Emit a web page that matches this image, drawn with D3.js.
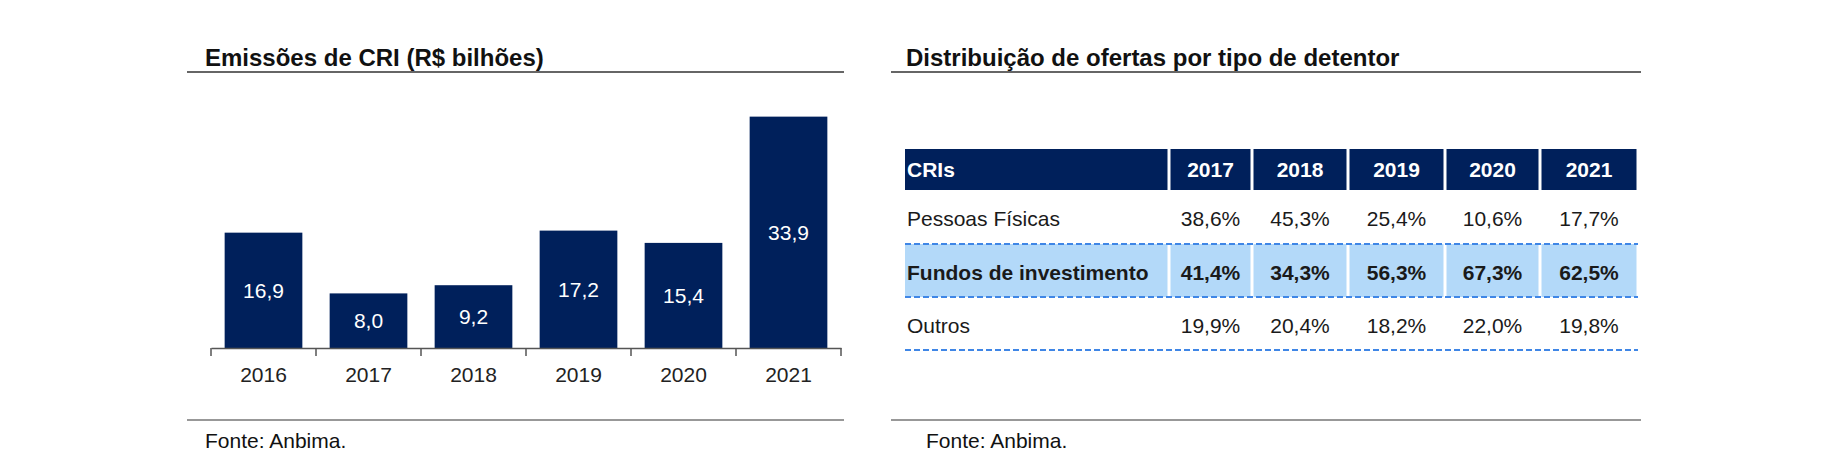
<!DOCTYPE html>
<html>
<head>
<meta charset="utf-8">
<script src="https://cdn.jsdelivr.net/npm/d3@7"></script>
<style>
  body { margin: 0; background: #fff; }
  text { font-family: "Liberation Sans", Arial, sans-serif; }
</style>
</head>
<body>
<script>
// chart data
const years = ['2016', '2017', '2018', '2019', '2020', '2021']
const emissions = [16.9, 8.0, 9.2, 17.2, 15.4, 33.9]

// table data
const tableYears = ['2017', '2018', '2019', '2020', '2021']
const holders = ['Pessoas Físicas', 'Fundos de investimento', 'Outros']
const pessoasFisicas = [38.6, 45.3, 25.4, 10.6, 17.7]
const fundos = [41.4, 34.3, 56.3, 67.3, 62.5]
const outros = [19.9, 20.4, 18.2, 22.0, 19.8]

const m = {
    width: 1838,
    height: 476
}

const navy = '#00205b'
const ptBR = d3.formatLocale({ decimal: ',', thousands: '.', grouping: [3], currency: ['R$ ', ''] })
const fmt = ptBR.format('.1f')

const svg = d3.select('body').append('svg')
    .attr('width', m.width)
    .attr('height', m.height)

// ---------- left panel: bars ----------
const left = svg.append('g')

left.append('text')
    .attr('x', 205)
    .attr('y', 66)
    .attr('font-size', 24)
    .attr('font-weight', 'bold')
    .attr('fill', '#111')
    .text('Emissões de CRI (R$ bilhões)')

left.append('line')
    .attr('x1', 187).attr('x2', 844)
    .attr('y1', 72).attr('y2', 72)
    .attr('stroke', '#333')
    .attr('stroke-width', 1.6)

const xScale = d3.scaleBand()
    .domain(years)
    .range([211, 841])
    .paddingInner(0.26)
    .paddingOuter(0.13)

const yScale = d3.scaleLinear()
    .domain([0, 40])
    .range([348, 75])

const barData = years.map(function (y, i) { return { year: y, value: emissions[i] } })

left.selectAll('.bar')
    .data(barData)
    .enter()
    .append('rect')
    .attr('class', 'bar')
    .attr('x', function (d) { return xScale(d.year) })
    .attr('y', function (d) { return yScale(d.value) })
    .attr('width', xScale.bandwidth())
    .attr('height', function (d) { return yScale(0) - yScale(d.value) })
    .attr('fill', navy)

left.selectAll('.barLabel')
    .data(barData)
    .enter()
    .append('text')
    .attr('class', 'barLabel')
    .attr('x', function (d) { return xScale(d.year) + xScale.bandwidth() / 2 })
    .attr('y', function (d) { return (yScale(d.value) + yScale(0)) / 2 })
    .attr('dy', '0.36em')
    .attr('text-anchor', 'middle')
    .attr('font-size', 21)
    .attr('fill', '#fff')
    .text(function (d) { return fmt(d.value) })

// x axis, labels from the axis, ticks between categories drawn separately
const xAxis = left.append('g')
    .attr('transform', 'translate(0,' + yScale(0) + ')')
    .call(d3.axisBottom(xScale).tickSize(0).tickPadding(19))

xAxis.select('.domain')
    .attr('stroke', '#555')
    .attr('stroke-width', 1.5)
xAxis.selectAll('.tick text')
    .attr('font-size', 21)
    .attr('font-family', '"Liberation Sans", Arial, sans-serif')
    .attr('fill', '#222')

const bounds = d3.range(years.length + 1).map(function (i) {
    return xScale.range()[0] + i * xScale.step()
})
xAxis.selectAll('.sep')
    .data(bounds)
    .enter()
    .append('line')
    .attr('class', 'sep')
    .attr('x1', function (d) { return d }).attr('x2', function (d) { return d })
    .attr('y1', 0).attr('y2', 8)
    .attr('stroke', '#555')
    .attr('stroke-width', 1.5)

left.append('line')
    .attr('x1', 187).attr('x2', 844)
    .attr('y1', 420).attr('y2', 420)
    .attr('stroke', '#333')
    .attr('stroke-width', 1.2)

left.append('text')
    .attr('x', 205)
    .attr('y', 448)
    .attr('font-size', 21)
    .attr('fill', '#111')
    .text('Fonte: Anbima.')

// ---------- right panel: table ----------
const right = svg.append('g')

right.append('text')
    .attr('x', 906)
    .attr('y', 66)
    .attr('font-size', 24)
    .attr('font-weight', 'bold')
    .attr('fill', '#111')
    .text('Distribuição de ofertas por tipo de detentor')

right.append('line')
    .attr('x1', 891).attr('x2', 1641)
    .attr('y1', 72).attr('y2', 72)
    .attr('stroke', '#333')
    .attr('stroke-width', 1.6)

// column edges of the table
const colWidths = [264, 83, 96, 97, 95, 98]
const colX = [905]
colWidths.forEach(function (w, i) { colX.push(colX[i] + w) })
const tableRight = colX[colX.length - 1]

const headerTop = 149, headerBottom = 190, rowH = 53
const rowTop = function (i) { return headerBottom + i * rowH + (i > 0 ? 1 : 0) }

const rows = [pessoasFisicas, fundos, outros]
const headers = ['CRIs'].concat(tableYears)

// header cells
right.selectAll('.hcell')
    .data(headers)
    .enter()
    .append('rect')
    .attr('class', 'hcell')
    .attr('x', function (d, i) { return colX[i] + (i > 0 ? 1.5 : 0) })
    .attr('y', headerTop)
    .attr('width', function (d, i) { return colWidths[i] - (i > 0 ? 1.5 : 0) - 1.5 })
    .attr('height', headerBottom - headerTop)
    .attr('fill', navy)

right.selectAll('.htext')
    .data(headers)
    .enter()
    .append('text')
    .attr('class', 'htext')
    .attr('x', function (d, i) { return i == 0 ? colX[0] + 2 : (colX[i] + colX[i + 1]) / 2 })
    .attr('y', (headerTop + headerBottom) / 2)
    .attr('dy', '0.36em')
    .attr('text-anchor', function (d, i) { return i == 0 ? 'start' : 'middle' })
    .attr('font-size', 21)
    .attr('font-weight', 'bold')
    .attr('fill', '#fff')
    .text(function (d) { return d })

// highlighted row background (Fundos de investimento)
right.selectAll('.hl')
    .data(headers)
    .enter()
    .append('rect')
    .attr('class', 'hl')
    .attr('x', function (d, i) { return colX[i] + (i > 0 ? 1.5 : 0) })
    .attr('y', rowTop(1))
    .attr('width', function (d, i) { return colWidths[i] - (i > 0 ? 1.5 : 0) - 1.5 })
    .attr('height', rowH)
    .attr('fill', '#b3d9f9')

rows.forEach(function (vals, r) {
    const yMid = rowTop(r) + rowH / 2 + 2
    const bold = r == 1 ? 'bold' : 'normal'

    right.append('text')
        .attr('x', colX[0] + 2)
        .attr('y', yMid)
        .attr('dy', '0.36em')
        .attr('font-size', 21)
        .attr('font-weight', bold)
        .attr('fill', '#1a1a1a')
        .text(holders[r])

    right.selectAll('.v' + r)
        .data(vals)
        .enter()
        .append('text')
        .attr('class', 'v' + r)
        .attr('x', function (d, i) { return (colX[i + 1] + colX[i + 2]) / 2 })
        .attr('y', yMid)
        .attr('dy', '0.36em')
        .attr('text-anchor', 'middle')
        .attr('font-size', 21)
        .attr('font-weight', bold)
        .attr('fill', '#1a1a1a')
        .text(function (d) { return fmt(d) + '%' })
})

// dashed blue separators under each row
right.selectAll('.dash')
    .data(rows)
    .enter()
    .append('line')
    .attr('class', 'dash')
    .attr('x1', colX[0]).attr('x2', tableRight)
    .attr('y1', function (d, i) { return rowTop(i + 1) })
    .attr('y2', function (d, i) { return rowTop(i + 1) })
    .attr('stroke', '#3f86e6')
    .attr('stroke-width', 2.2)
    .attr('stroke-dasharray', '6,3')

right.append('line')
    .attr('x1', 891).attr('x2', 1641)
    .attr('y1', 420).attr('y2', 420)
    .attr('stroke', '#333')
    .attr('stroke-width', 1.2)

right.append('text')
    .attr('x', 926)
    .attr('y', 448)
    .attr('font-size', 21)
    .attr('fill', '#111')
    .text('Fonte: Anbima.')
</script>
</body>
</html>
